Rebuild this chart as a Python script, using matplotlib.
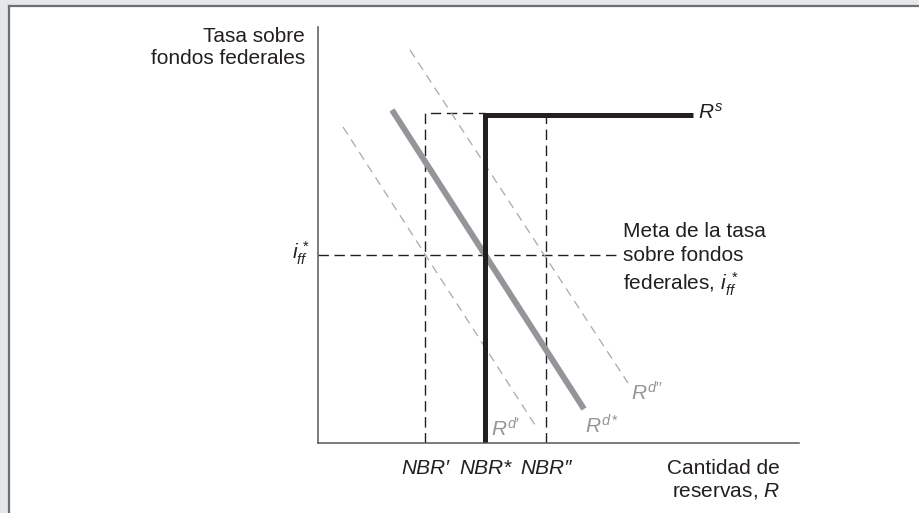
import matplotlib
matplotlib.use("Agg")
import matplotlib.pyplot as plt
from matplotlib.patches import Rectangle
from matplotlib.lines import Line2D

plt.rcParams['font.family'] = ['Liberation Sans', 'DejaVu Sans']
plt.rcParams['mathtext.fontset'] = 'custom'
plt.rcParams['mathtext.rm'] = 'Liberation Sans'
plt.rcParams['mathtext.it'] = 'Liberation Sans:italic'
plt.rcParams['mathtext.bf'] = 'Liberation Sans:bold'

# Diagram values (horizontal: reserves, vertical: federal funds rate)
nbr_labels = ["NBR\u2032", "NBR*", "NBR\u2033"]
nbr_x = [107, 167, 228]
iff_target = 188
box_top = 330
rs_level = 328
rs_end = 375
iff_line_end = 299

# demand curves: (x0, y0) -> (x1, y1)
rd_star_x = [74, 266]
rd_star_y = [333, 34]
rd_prime_x = [25, 219]
rd_prime_y = [316, 15]
rd_dprime_x = [92, 310]
rd_dprime_y = [393, 60]

black = "#231f20"
gray = "#939598"
axis_col = "#58595b"

fig = plt.figure(figsize=(9.19, 5.13), dpi=100)
fig.patch.set_facecolor("#e6e7e8")
W, H = 919, 513

# white panel with dark border on left/top
fig.patches.append(Rectangle((9 / W, 0), 1 - 9 / W, 1 - 6 / H, transform=fig.transFigure,
                             facecolor="white", edgecolor="none", zorder=-10))
fig.lines.append(Line2D([9 / W, 9 / W], [0, 1 - 6 / H], transform=fig.transFigure,
                        color="#6d6e71", lw=1.6, zorder=-9))
fig.lines.append(Line2D([9 / W, 1], [1 - 6 / H, 1 - 6 / H], transform=fig.transFigure,
                        color="#6d6e71", lw=1.6, zorder=-9))

ax = fig.add_axes([318 / W, (513 - 443) / H, 481 / W, 416 / H])
ax.set_xlim(0, 481)
ax.set_ylim(0, 416)
ax.patch.set_alpha(0)
for s in ["top", "right"]:
    ax.spines[s].set_visible(False)
for s in ["left", "bottom"]:
    ax.spines[s].set_color(axis_col)
    ax.spines[s].set_linewidth(1.1)
ax.set_xticks([])
ax.set_yticks([])

# dashed guides
dash_kw = dict(color=black, lw=1.0, dashes=(7.5, 4))
ax.plot([0, iff_line_end], [iff_target, iff_target], **dash_kw)
ax.plot([nbr_x[0], nbr_x[0], nbr_x[1]], [0, box_top, box_top], **dash_kw)
ax.plot([nbr_x[2], nbr_x[2]], [0, rs_level], **dash_kw)

# shifted demand curves
ax.plot(rd_prime_x, rd_prime_y, color="#a7a9ac", lw=0.9, dashes=(7, 5))
ax.plot(rd_dprime_x, rd_dprime_y, color="#a7a9ac", lw=0.9, dashes=(7, 5))

# demand curve
ax.plot(rd_star_x, rd_star_y, color=gray, lw=4.3, solid_capstyle="butt")

# supply curve
ax.plot([nbr_x[1], nbr_x[1], rs_end], [0, rs_level, rs_level], color=black, lw=3.6,
        solid_joinstyle="miter", solid_capstyle="butt")

fs = 15
ax.text(-13, 416, "Tasa sobre\nfondos federales", ha="right", va="top", fontsize=fs,
        color=black, linespacing=1.2, clip_on=False)
ax.text(rs_end + 5, rs_level + 2, r"$R^{s}$", ha="left", va="center", fontsize=fs, color=black)
ax.text(-8, iff_target + 2, r"$i_{ff}^{\,*}$", ha="right", va="center", fontsize=fs, color=black)
ax.text(iff_line_end + 6, iff_target - 5, "Meta de la tasa\nsobre fondos\nfederales, $i_{ff}^{\\,*}$",
        ha="left", va="center", fontsize=fs, color=black, linespacing=1.3)

ax.text(173, 14, r"$R^{d\prime}$", ha="left", va="center", fontsize=fs, color=gray)
ax.text(267, 17, r"$R^{d*}$", ha="left", va="center", fontsize=fs, color=gray)
ax.text(313, 50, r"$R^{d\prime\prime}$", ha="left", va="center", fontsize=fs, color=gray)

for x, lab in zip(nbr_x, nbr_labels):
    ax.text(x, -26, lab, ha="center", va="center", fontsize=fs, style="italic",
            color=black, clip_on=False)

ax.text(462, -37, "Cantidad de\nreservas, $R$", ha="right", va="center", fontsize=fs,
        color=black, linespacing=1.2, clip_on=False)

fig.savefig("out.png", dpi=100, facecolor=fig.get_facecolor())
